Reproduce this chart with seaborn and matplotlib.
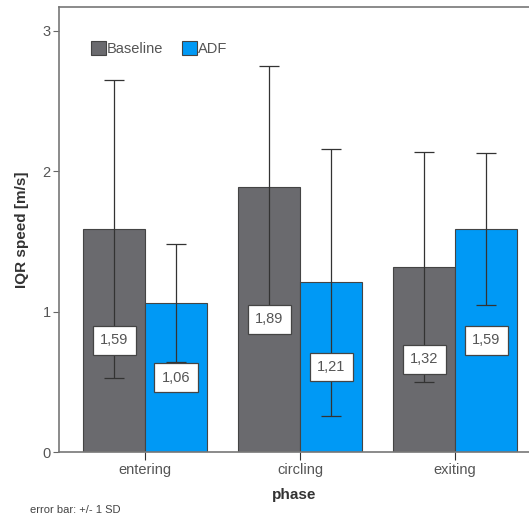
import matplotlib
matplotlib.use("Agg")
import matplotlib.pyplot as plt
import seaborn as sns
import pandas as pd

phases = ["entering", "circling", "exiting"]
baseline_mean = [1.59, 1.89, 1.32]
adf_mean = [1.06, 1.21, 1.59]
baseline_sd = [1.06, 0.86, 0.82]
adf_sd = [0.42, 0.95, 0.54]
groups = ["Baseline", "ADF"]
value_labels_baseline = ["1,59", "1,89", "1,32"]
value_labels_adf = ["1,06", "1,21", "1,59"]

df = pd.DataFrame({
    "phase": phases * 2,
    "group": [groups[0]] * 3 + [groups[1]] * 3,
    "value": baseline_mean + adf_mean,
    "sd": baseline_sd + adf_sd,
    "label": value_labels_baseline + value_labels_adf,
})

sns.set_style("white")
plt.rcParams["font.family"] = ["Liberation Sans", "DejaVu Sans"]

fig = plt.figure(figsize=(5.29, 5.19), dpi=100)
ax = fig.add_axes([59 / 529, 1 - 452 / 519, 470 / 529, 445 / 519])

palette = {"Baseline": "#6a6a6e", "ADF": "#0099f5"}
sns.barplot(data=df, x="phase", y="value", hue="group", order=phases,
            hue_order=groups, palette=palette, errorbar=None, width=0.8,
            edgecolor="#444444", linewidth=0.8, saturation=1, ax=ax)

# error bars and value boxes, at bar centres
bars = [p for p in ax.patches if p.get_height() > 0][:6]
for bar, (_, row) in zip(bars, df.iterrows()):
    cx = bar.get_x() + bar.get_width() / 2
    ax.errorbar(cx, row["value"], yerr=row["sd"], color="#333333",
                elinewidth=0.9, capsize=7.5, capthick=0.9, zorder=3)
    ax.text(cx, row["value"] / 2, row["label"], ha="center", va="center",
            fontsize=10.5, color="#555555", zorder=4,
            bbox=dict(boxstyle="square,pad=0.5", fc="white", ec="#444444", lw=0.9))

ax.set_ylim(0, 3.17)
ax.set_xlim(-0.555, 2.477)
ax.set_yticks([0, 1, 2, 3])
ax.set_yticklabels(["0", "1", "2", "3"])
ax.tick_params(axis="y", direction="out", length=4, width=0.8, color="#666666",
               labelsize=10.5, labelcolor="#555555", pad=2, left=True)
ax.tick_params(axis="x", direction="out", length=6, width=0.8, color="#333333",
               labelsize=10.5, labelcolor="#555555", pad=2, bottom=True)

for s in ["left", "bottom", "top"]:
    ax.spines[s].set_visible(True)
    ax.spines[s].set_color("#777777")
    ax.spines[s].set_linewidth(1.2)
ax.spines["right"].set_visible(False)

ax.set_xlabel("phase", fontsize=11, fontweight="bold", color="#333333", labelpad=8)
ax.set_ylabel("IQR speed [m/s]", fontsize=11, fontweight="bold", color="#333333", labelpad=10)

leg = ax.legend(loc="upper left", bbox_to_anchor=(0.04, 0.952), ncol=2, frameon=False,
                fontsize=10.5, handlelength=1.0, handleheight=1.0, handletextpad=0.1,
                columnspacing=1.3)
for t in leg.get_texts():
    t.set_color("#555555")
for h in leg.legend_handles:
    h.set_edgecolor("#444444")

fig.text(30 / 529, 1 - 510 / 519, "error bar: +/- 1 SD", fontsize=8, color="#444444",
         va="center", ha="left")

fig.savefig("out.png", dpi=100)
